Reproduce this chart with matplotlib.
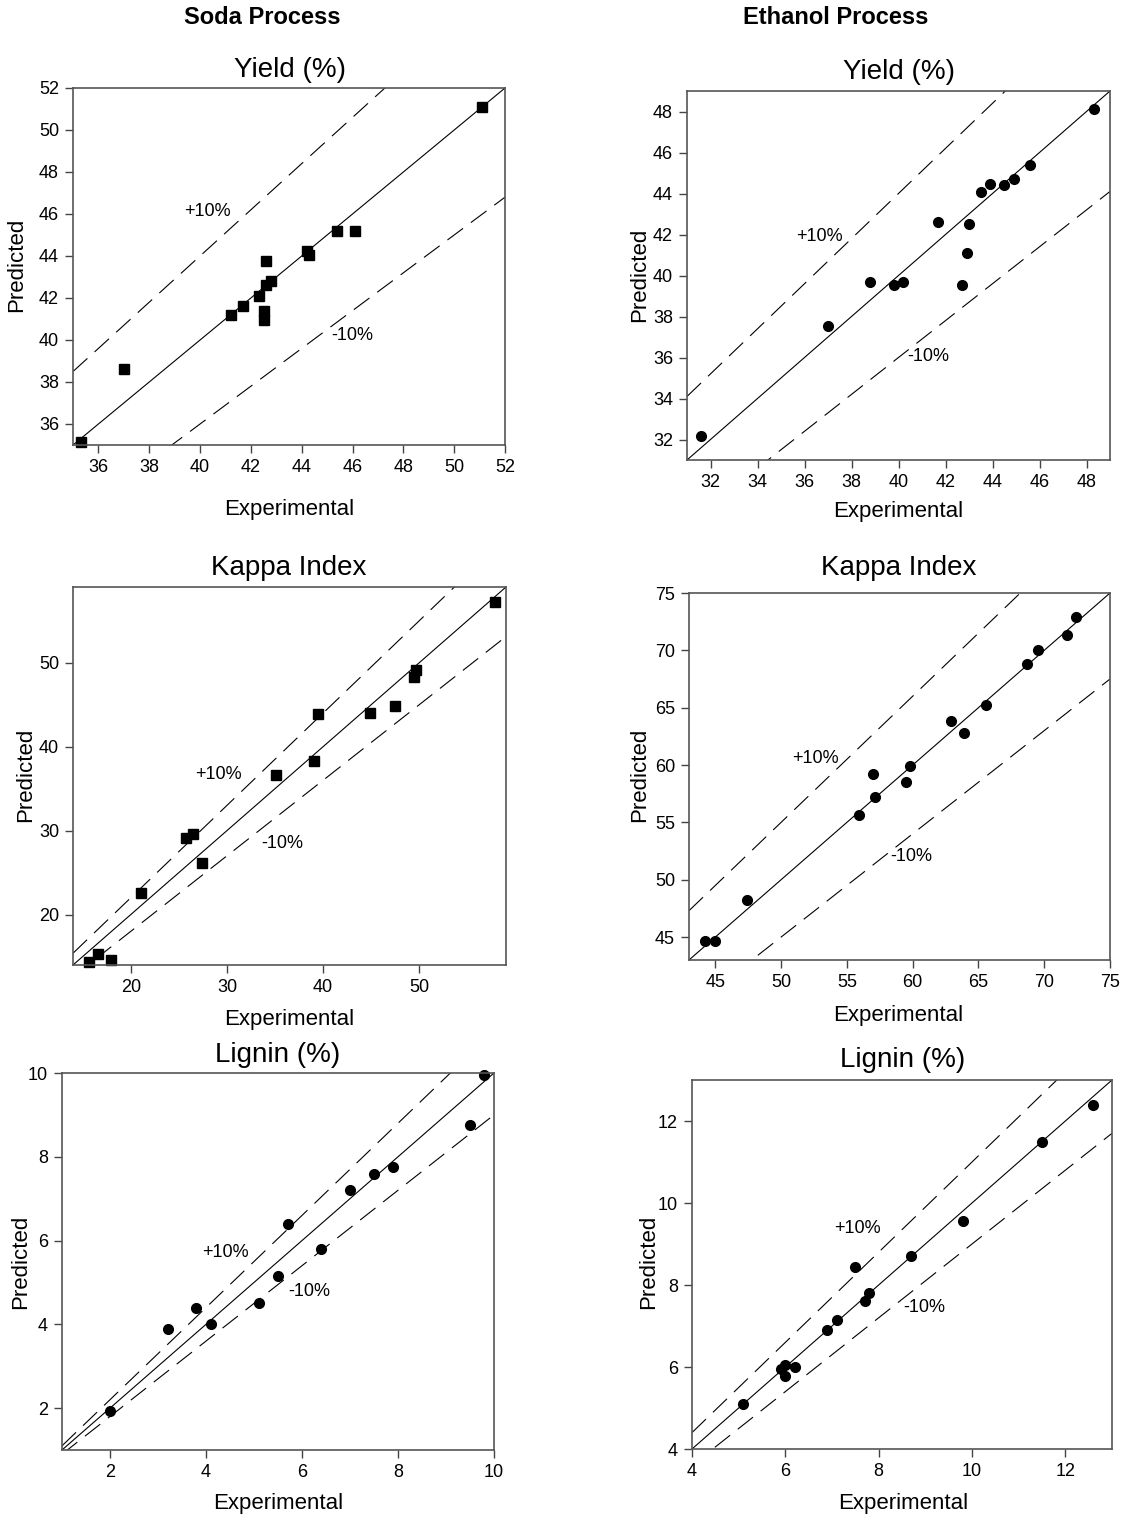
import numpy as np
import matplotlib
matplotlib.use("Agg")
import matplotlib.pyplot as plt

plt.rcParams['font.family'] = ['Liberation Sans', 'DejaVu Sans']
plt.rcParams['lines.scale_dashes'] = False

W, H = 1125, 1521

## data (experimental, predicted)
soda_yield_exp = [35.3, 37.0, 41.2, 41.7, 42.3, 42.6, 42.6, 42.8, 42.5, 42.5, 44.2, 44.3, 45.4, 46.1, 51.1]
soda_yield_pred = [35.15, 38.6, 41.2, 41.6, 42.1, 43.75, 42.6, 42.8, 41.4, 40.95, 44.25, 44.05, 45.2, 45.2, 51.1]

eth_yield_exp = [31.6, 37.0, 38.8, 39.8, 40.2, 41.7, 42.7, 42.9, 43.0, 43.5, 43.9, 44.5, 44.9, 45.6, 48.3]
eth_yield_pred = [32.15, 37.55, 39.7, 39.55, 39.7, 42.6, 39.55, 41.1, 42.5, 44.05, 44.45, 44.4, 44.7, 45.4, 48.1]

soda_kappa_exp = [15.7, 16.55, 17.9, 21.1, 25.7, 26.5, 27.4, 35.1, 39.0, 39.45, 44.9, 47.5, 49.4, 49.6, 57.9]
soda_kappa_pred = [14.4, 15.3, 14.6, 22.6, 29.1, 29.65, 26.2, 36.65, 38.25, 43.9, 44.0, 44.8, 48.3, 49.1, 57.25]

eth_kappa_exp = [44.2, 45.0, 47.4, 55.9, 57.0, 57.1, 59.5, 59.8, 62.9, 63.9, 65.6, 68.7, 69.5, 71.7, 72.45]
eth_kappa_pred = [44.7, 44.7, 48.25, 55.6, 59.2, 57.2, 58.55, 59.9, 63.8, 62.8, 65.25, 68.8, 70.0, 71.3, 72.9]

soda_lignin_exp = [2.0, 3.2, 3.8, 4.1, 5.1, 5.5, 5.7, 6.4, 7.0, 7.5, 7.9, 9.5, 9.8]
soda_lignin_pred = [1.92, 3.9, 4.4, 4.0, 4.5, 5.15, 6.4, 5.8, 7.2, 7.6, 7.75, 8.75, 9.95]

eth_lignin_exp = [5.1, 5.9, 6.0, 6.0, 6.2, 6.9, 7.1, 7.5, 7.7, 7.8, 8.7, 9.8, 11.5, 12.6]
eth_lignin_pred = [5.1, 5.95, 6.04, 5.78, 6.0, 6.9, 7.15, 8.45, 7.6, 7.8, 8.7, 9.57, 11.5, 12.4]

fig = plt.figure(figsize=(W / 100, H / 100), dpi=100)


def px_axes(left, right, top, bottom):
    return fig.add_axes([left / W, 1 - bottom / H, (right - left) / W, (bottom - top) / H])


def px_text(x, y, s, **kw):
    fig.text(x / W, 1 - y / H, s, ha='center', va='center', **kw)


def panel(box, xs, ys, lims, ticks, marker, plus_pos, minus_pos):
    ax = px_axes(*box)
    lo, hi = lims
    line_x = np.array([lo, hi])
    ax.plot(line_x, line_x, color='black', lw=0.8)
    ax.plot(line_x, 1.1 * line_x, color='black', lw=0.8, dashes=(14, 7))
    ax.plot(line_x, 0.9 * line_x, color='black', lw=0.8, dashes=(14, 7))
    ms = 6.5 if marker == 's' else 7
    ax.plot(xs, ys, linestyle='none', marker=marker, color='black', ms=ms, clip_on=False)
    ax.set_xlim(lo, hi)
    ax.set_ylim(lo, hi)
    ax.set_xticks(ticks)
    ax.set_yticks(ticks)
    ax.tick_params(direction='out', length=6, width=1, color='#444444',
                   labelsize=13, pad=4, top=False, right=False)
    for sp in ax.spines.values():
        sp.set_color('#555555')
        sp.set_linewidth(1.2)
    ax.text(plus_pos[0], plus_pos[1], '+10%', fontsize=13, ha='center', va='center')
    ax.text(minus_pos[0], minus_pos[1], '-10%', fontsize=13, ha='center', va='center')
    return ax


# Soda column
panel((73, 505, 88, 445), soda_yield_exp, soda_yield_pred, (35, 52), range(36, 53, 2), 's',
      (40.3, 46.1), (46.0, 40.2))
panel((73, 506, 587, 965), soda_kappa_exp, soda_kappa_pred, (14, 59), [20, 30, 40, 50], 's',
      (29.1, 36.7), (35.7, 28.45))
panel((62, 494, 1073, 1450), soda_lignin_exp, soda_lignin_pred, (1, 10), [2, 4, 6, 8, 10], 'o',
      (4.41, 5.71), (6.16, 4.78))

# Ethanol column
panel((687, 1110, 91, 460), eth_yield_exp, eth_yield_pred, (31, 49), range(32, 49, 2), 'o',
      (36.65, 41.9), (41.25, 36.03))
panel((689, 1110, 593, 960), eth_kappa_exp, eth_kappa_pred, (43, 75), range(45, 76, 5), 'o',
      (52.6, 60.6), (59.9, 52.0))
panel((692, 1112, 1080, 1449), eth_lignin_exp, eth_lignin_pred, (4, 13), [4, 6, 8, 10, 12], 'o',
      (7.55, 9.38), (8.98, 7.44))

# column headers
px_text(262, 18, 'Soda Process', fontsize=17, fontweight='bold')
px_text(836, 18, 'Ethanol Process', fontsize=17, fontweight='bold')

# panel titles
px_text(290, 70, 'Yield (%)', fontsize=20)
px_text(899, 72, 'Yield (%)', fontsize=20)
px_text(289, 568, 'Kappa Index', fontsize=20)
px_text(899, 568, 'Kappa Index', fontsize=20)
px_text(278, 1055, 'Lignin (%)', fontsize=20)
px_text(903, 1060, 'Lignin (%)', fontsize=20)

# axis labels
for x, y in [(289, 509), (898, 512), (289, 1020), (898, 1015), (278, 1504), (903, 1503)]:
    px_text(x, y, 'Experimental', fontsize=16)
for x, y in [(17, 265), (640, 275), (26, 775), (640, 775), (21, 1262), (649, 1262)]:
    px_text(x, y, 'Predicted', fontsize=16, rotation=90)

fig.savefig('out.png', dpi=100, facecolor='white')
